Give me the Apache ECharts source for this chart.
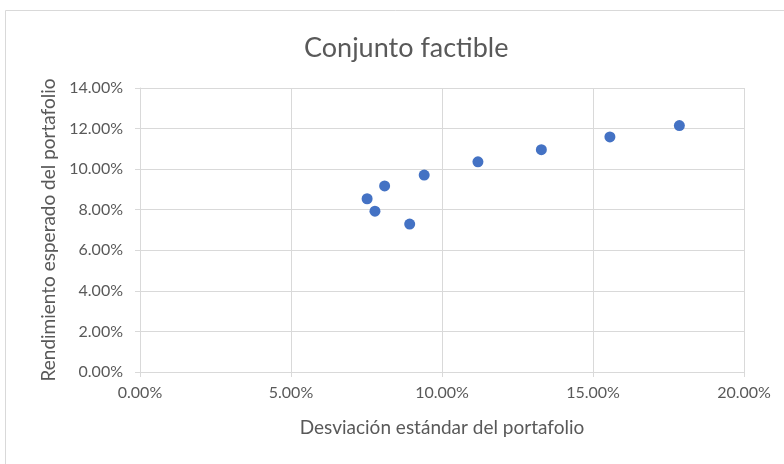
<!DOCTYPE html>
<html>
<head>
<meta charset="utf-8">
<script src="https://cdn.jsdelivr.net/npm/echarts@6/dist/echarts.min.js"></script>
<style>
  html, body { margin: 0; padding: 0; background: #fff; }
  #chart { width: 784px; height: 464px; }
</style>
</head>
<body>
<div id="chart"></div>
<script>
// Portfolio standard deviation (%) and expected return (%)
const desviacion = [7.52, 7.78, 8.10, 8.93, 9.41, 11.19, 13.29, 15.56, 17.86];
const rendimiento = [8.54, 7.93, 9.17, 7.29, 9.71, 10.36, 10.96, 11.59, 12.15];

const titulo = 'Conjunto factible';
const nombreX = 'Desviación estándar del portafolio';
const nombreY = 'Rendimiento esperado del portafolio';

const puntos = desviacion.map((d, i) => [d, rendimiento[i]]);
const fuente = 'Lato, "Open Sans", sans-serif';
const gris = '#595959';

const chart = echarts.init(document.getElementById('chart'), null, { renderer: 'canvas' });
chart.setOption({
  backgroundColor: '#fff',
  animation: false,
  graphic: [{
    type: 'rect',
    shape: { x: 5.5, y: 10.5, width: 790, height: 470 },
    style: { fill: 'none', stroke: '#d9d9d9', lineWidth: 1 },
    silent: true
  }],
  title: {
    text: titulo,
    left: 299,
    top: 30,
    textStyle: { fontFamily: fuente, fontSize: 27, fontWeight: 'normal', color: gris }
  },
  grid: { left: 140, right: 40, top: 88, bottom: 92 },
  xAxis: {
    type: 'value',
    min: 0, max: 20, interval: 5,
    name: nombreX,
    nameLocation: 'middle',
    nameGap: 46,
    nameTextStyle: { fontFamily: fuente, fontSize: 19, color: gris },
    axisLine: { show: true, lineStyle: { color: '#d9d9d9' } },
    axisTick: { show: true, length: 5, lineStyle: { color: '#d9d9d9' } },
    axisLabel: { formatter: v => v.toFixed(2) + '%', fontFamily: fuente, fontSize: 16, color: gris, margin: 13 },
    splitLine: { show: true, lineStyle: { color: '#d9d9d9' } }
  },
  yAxis: {
    type: 'value',
    min: 0, max: 14, interval: 2,
    name: nombreY,
    nameLocation: 'middle',
    nameGap: 82,
    nameTextStyle: { fontFamily: fuente, fontSize: 19, color: gris },
    axisLine: { show: true, lineStyle: { color: '#d9d9d9' } },
    axisTick: { show: true, length: 5, lineStyle: { color: '#d9d9d9' } },
    axisLabel: { formatter: v => v.toFixed(2) + '%', fontFamily: fuente, fontSize: 16, color: gris, margin: 17 },
    splitLine: { show: true, lineStyle: { color: '#d9d9d9' } }
  },
  series: [{
    type: 'scatter',
    data: puntos,
    symbol: 'circle',
    symbolSize: 11,
    itemStyle: { color: '#4472C4', opacity: 1 }
  }]
});
</script>
</body>
</html>
